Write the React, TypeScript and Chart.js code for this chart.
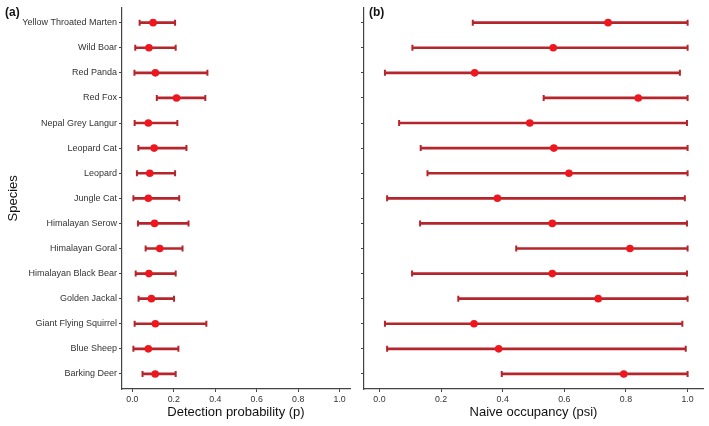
import React, { useEffect, useRef } from "react";
import { Chart, registerables } from "chart.js";

Chart.register(...registerables);

const species = [
  "Yellow Throated Marten",
  "Wild Boar",
  "Red Panda",
  "Red Fox",
  "Nepal Grey Langur",
  "Leopard Cat",
  "Leopard",
  "Jungle Cat",
  "Himalayan Serow",
  "Himalayan Goral",
  "Himalayan Black Bear",
  "Golden Jackal",
  "Giant Flying Squirrel",
  "Blue Sheep",
  "Barking Deer",
];

const pEst = [0.1, 0.08, 0.111, 0.213, 0.077, 0.105, 0.084, 0.077, 0.107, 0.132, 0.08, 0.092, 0.111, 0.077, 0.11];
const pLow = [0.035, 0.014, 0.01, 0.118, 0.011, 0.029, 0.022, 0.005, 0.027, 0.064, 0.016, 0.03, 0.011, 0.005, 0.049];
const pHigh = [0.206, 0.209, 0.362, 0.352, 0.217, 0.261, 0.206, 0.226, 0.271, 0.242, 0.209, 0.201, 0.357, 0.222, 0.209];

const psiEst = [0.742, 0.564, 0.309, 0.84, 0.488, 0.566, 0.615, 0.383, 0.561, 0.813, 0.561, 0.71, 0.307, 0.387, 0.793];
const psiLow = [0.303, 0.107, 0.018, 0.533, 0.064, 0.134, 0.156, 0.025, 0.132, 0.444, 0.106, 0.256, 0.018, 0.025, 0.397];
const psiHigh = [1.0, 1.0, 0.975, 1.0, 0.998, 1.0, 1.0, 0.991, 0.998, 1.0, 0.998, 1.0, 0.983, 0.994, 1.0];

const xTicks = [0, 0.2, 0.4, 0.6, 0.8, 1.0];

const FONT = "'Liberation Sans', Arial, Helvetica, sans-serif";
const BAR_COLOR = "#b5262c";
const POINT_COLOR = "#f0161e";
const AXIS_COLOR = "#444444";
const TICK_TEXT = "#333333";

type PanelProps = {
  est: number[];
  low: number[];
  high: number[];
  xTitle: string;
  yTitle?: string;
  showLabels: boolean;
  yWidth: number;
  padRight: number;
  width: number;
  left: number;
};

function Panel({ est, low, high, xTitle, yTitle, showLabels, yWidth, padRight, width, left }: PanelProps) {
  const ref = useRef<HTMLCanvasElement | null>(null);

  useEffect(() => {
    if (!ref.current) return;
    const chart = new Chart(ref.current, {
      type: "bar",
      data: {
        datasets: [
          {
            type: "bar",
            data: low.map((lo, i) => ({ y: i, x: [lo, high[i]] })) as any,
            backgroundColor: BAR_COLOR,
            borderWidth: 0,
            barThickness: 2,
            order: 3,
          } as any,
          {
            type: "scatter",
            data: [
              ...low.map((lo, i) => ({ x: lo, y: i })),
              ...high.map((hi, i) => ({ x: hi, y: i })),
            ],
            pointStyle: "line",
            rotation: 90,
            radius: 3,
            borderColor: BAR_COLOR,
            borderWidth: 2,
            order: 2,
          } as any,
          {
            type: "scatter",
            data: est.map((v, i) => ({ x: v, y: i })),
            pointStyle: "circle",
            radius: 3.8,
            backgroundColor: POINT_COLOR,
            borderWidth: 0,
            order: 1,
          } as any,
        ],
      },
      options: {
        animation: false,
        responsive: true,
        maintainAspectRatio: false,
        indexAxis: "y",
        layout: { padding: { left: 0, right: padRight, top: 7.6, bottom: 0 } },
        plugins: { legend: { display: false }, tooltip: { enabled: false } },
        scales: {
          x: {
            type: "linear",
            min: -0.05,
            max: 1.05,
            offset: false,
            afterBuildTicks: (s: any) => {
              s.ticks = xTicks.map((v) => ({ value: v }));
            },
            afterFit: (s: any) => {
              s.height = 37;
            },
            ticks: {
              autoSkip: false,
              maxRotation: 0,
              padding: 2,
              color: TICK_TEXT,
              font: { family: FONT, size: 8.8 },
              callback: (v: any) => Number(v).toFixed(1),
            },
            grid: { offset: false, drawOnChartArea: false, drawTicks: true, tickLength: 3, color: AXIS_COLOR, tickWidth: 1 },
            border: { display: true, color: AXIS_COLOR, width: 1.2 },
            title: {
              display: true,
              text: xTitle,
              color: "#111",
              font: { family: FONT, size: 13 },
              padding: { top: 0, bottom: 6 },
            },
          },
          y: {
            type: "linear",
            min: -0.6,
            max: species.length - 1 + 0.6,
            reverse: true,
            offset: false,
            afterBuildTicks: (s: any) => {
              s.ticks = species.map((_, i) => ({ value: i }));
            },
            afterFit: (s: any) => {
              s.width = yWidth;
            },
            ticks: {
              autoSkip: false,
              padding: 2,
              color: TICK_TEXT,
              font: { family: FONT, size: 9 },
              callback: (v: any) => (showLabels ? species[Math.round(Number(v))] : ""),
            },
            grid: { offset: false, drawOnChartArea: false, drawTicks: true, tickLength: 3, color: AXIS_COLOR, tickWidth: 1 },
            border: { display: true, color: AXIS_COLOR, width: 1.2 },
            title: {
              display: !!yTitle,
              text: yTitle || "",
              color: "#111",
              font: { family: FONT, size: 13 },
              padding: { top: 6, bottom: 0 },
            },
          },
        },
      } as any,
    });
    return () => chart.destroy();
  }, []);

  return (
    <div style={{ position: "absolute", left, top: 0, width, height: 426 }}>
      <canvas ref={ref} />
    </div>
  );
}

export default function App() {
  const labelStyle: React.CSSProperties = {
    position: "absolute",
    top: 5,
    fontFamily: FONT,
    fontWeight: "bold",
    fontSize: 12,
    lineHeight: "14px",
    color: "#111",
    zIndex: 2,
  };
  return (
    <div style={{ position: "absolute", left: 0, top: 0, width: 709, height: 426, background: "#fff", overflow: "hidden" }}>
      <Panel
        est={pEst}
        low={pLow}
        high={pHigh}
        xTitle="Detection probability (p)"
        yTitle="Species"
        showLabels={true}
        yWidth={122}
        padRight={4.3}
        width={356}
        left={0}
      />
      <Panel
        est={psiEst}
        low={psiLow}
        high={psiHigh}
        xTitle="Naive occupancy (psi)"
        showLabels={false}
        yWidth={8}
        padRight={2.8}
        width={353}
        left={356}
      />
      <div style={{ ...labelStyle, left: 5 }}>(a)</div>
      <div style={{ ...labelStyle, left: 369 }}>(b)</div>
    </div>
  );
}
